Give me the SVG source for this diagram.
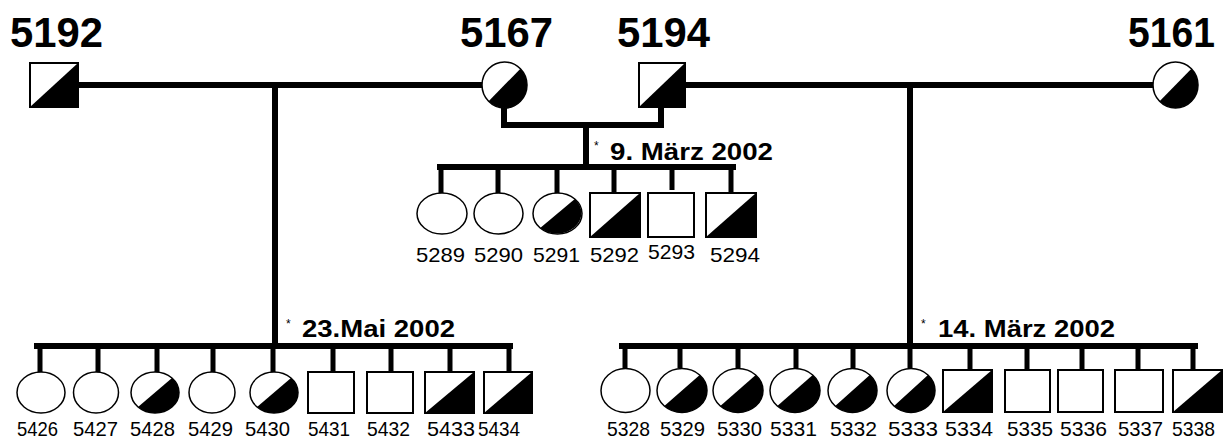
<svg xmlns="http://www.w3.org/2000/svg" width="1230" height="439" viewBox="0 0 1230 439">
<style>
.bg{fill:#fff}
.ln{stroke:#000;stroke-width:6;fill:none;stroke-linecap:square}
.dr{stroke:#000;stroke-width:5;fill:none}
.sq{fill:#fff;stroke:#000;stroke-width:2}
.ci{fill:#fff;stroke:#000;stroke-width:1.5}
.hf{fill:#000}
.big{font-family:"Liberation Sans",Arial,sans-serif;font-weight:bold;font-size:42px;fill:#000;text-anchor:middle}
.date{font-family:"Liberation Sans",Arial,sans-serif;font-weight:bold;font-size:24px;fill:#000}
.ast{font-family:"Liberation Sans",Arial,sans-serif;font-size:12px;fill:#000}
.lab{font-family:"Liberation Sans",Arial,sans-serif;font-size:21px;fill:#000;text-anchor:middle}
</style>
<rect class="bg" x="0" y="0" width="1230" height="439"/>
<g id="connectors">
<path class="ln" d="M78 85H482M685 85H1153"/>
<path class="ln" d="M275 85V346M37 346H510"/>
<path class="ln" d="M910 85V346M622 346H1195"/>
<path class="ln" d="M504 108V125H661V107M586 125V167M440 167H733"/>
<path class="dr" d="M441 167V193M498 167V193M557 167V193M614 167V193M672 167V190M731 167V193"/>
<path class="dr" d="M40 346V372M98 346V372M157 346V372M213 346V372M273 346V372M333 346V372M391 346V372M450 346V372M509 346V372"/>
<path class="dr" d="M625 346V368M680 346V368M738 346V368M796 346V368M853 346V368M910 346V368M970 346V370M1027 346V370M1082 346V370M1138 346V370M1193 346V370"/>
</g>
<g id="p5192"><rect class="sq" x="30" y="63" width="48" height="44"/><polygon class="hf" points="30,107 78,63 78,107"/><text class="big" x="56.5" y="47" textLength="93" lengthAdjust="spacingAndGlyphs">5192</text></g>
<g id="p5167"><ellipse class="ci" cx="504.5" cy="85" rx="22.5" ry="23"/><path class="hf" d="M488.6 101.3A22.5 23 0 0 0 520.4 68.7Z"/><text class="big" x="506.5" y="47" textLength="93" lengthAdjust="spacingAndGlyphs">5167</text></g>
<g id="p5194"><rect class="sq" x="639" y="63" width="46" height="44"/><polygon class="hf" points="639,107 685,63 685,107"/><text class="big" x="663.5" y="47" textLength="93" lengthAdjust="spacingAndGlyphs">5194</text></g>
<g id="p5161"><ellipse class="ci" cx="1175.5" cy="85" rx="22.5" ry="23"/><path class="hf" d="M1159.6 101.3A22.5 23 0 0 0 1191.4 68.7Z"/><text class="big" x="1171.5" y="47" textLength="87" lengthAdjust="spacingAndGlyphs">5161</text></g>
<g id="date1"><text class="ast" x="594" y="150">*</text><text class="date" x="610" y="160" textLength="163" lengthAdjust="spacingAndGlyphs">9. März 2002</text></g>
<g id="date2"><text class="ast" x="286" y="328">*</text><text class="date" x="302" y="337" textLength="153" lengthAdjust="spacingAndGlyphs">23.Mai 2002</text></g>
<g id="date3"><text class="ast" x="921" y="328">*</text><text class="date" x="938" y="337" textLength="177" lengthAdjust="spacingAndGlyphs">14. März 2002</text></g>
<g id="c5289"><ellipse class="ci" cx="442" cy="213.5" rx="25" ry="20.5"/><text class="lab" x="440.5" y="261.5" textLength="49" lengthAdjust="spacingAndGlyphs">5289</text></g>
<g id="c5290"><ellipse class="ci" cx="498.5" cy="213.5" rx="24.5" ry="20.5"/><text class="lab" x="498.5" y="261.5" textLength="49" lengthAdjust="spacingAndGlyphs">5290</text></g>
<g id="c5291"><ellipse class="ci" cx="557.5" cy="213.5" rx="24.5" ry="20.5"/><path class="hf" d="M540.2 228A24.5 20.5 0 0 0 574.8 199Z"/><text class="lab" x="556.5" y="261.5" textLength="47" lengthAdjust="spacingAndGlyphs">5291</text></g>
<g id="c5292"><rect class="sq" x="590" y="193" width="50" height="44"/><polygon class="hf" points="590,237 640,193 640,237"/><text class="lab" x="614.5" y="261.5" textLength="49" lengthAdjust="spacingAndGlyphs">5292</text></g>
<g id="c5293"><rect class="sq" x="648" y="193" width="46" height="44"/><text class="lab" x="671.5" y="258.5" textLength="47" lengthAdjust="spacingAndGlyphs">5293</text></g>
<g id="c5294"><rect class="sq" x="706" y="193" width="50" height="44"/><polygon class="hf" points="706,237 756,193 756,237"/><text class="lab" x="735" y="261.5" textLength="50" lengthAdjust="spacingAndGlyphs">5294</text></g>
<g id="c5426"><ellipse class="ci" cx="41" cy="392.5" rx="24" ry="20.5"/><text class="lab" x="37.5" y="436" textLength="41" lengthAdjust="spacingAndGlyphs">5426</text></g>
<g id="c5427"><ellipse class="ci" cx="96" cy="392.5" rx="22.5" ry="20.5"/><text class="lab" x="95.5" y="436" textLength="45" lengthAdjust="spacingAndGlyphs">5427</text></g>
<g id="c5428"><ellipse class="ci" cx="155" cy="392.5" rx="24" ry="20.5"/><path class="hf" d="M138 407A24 20.5 0 0 0 172 378Z"/><text class="lab" x="152.5" y="436" textLength="45" lengthAdjust="spacingAndGlyphs">5428</text></g>
<g id="c5429"><ellipse class="ci" cx="212" cy="392.5" rx="23" ry="20.5"/><text class="lab" x="210.5" y="436" textLength="45" lengthAdjust="spacingAndGlyphs">5429</text></g>
<g id="c5430"><ellipse class="ci" cx="274" cy="392.5" rx="24" ry="20.5"/><path class="hf" d="M257 407A24 20.5 0 0 0 291 378Z"/><text class="lab" x="267.5" y="436" textLength="45" lengthAdjust="spacingAndGlyphs">5430</text></g>
<g id="c5431"><rect class="sq" x="308" y="372" width="46" height="41"/><text class="lab" x="329" y="436" textLength="42" lengthAdjust="spacingAndGlyphs">5431</text></g>
<g id="c5432"><rect class="sq" x="367" y="372" width="46" height="41"/><text class="lab" x="388.5" y="436" textLength="43" lengthAdjust="spacingAndGlyphs">5432</text></g>
<g id="c5433"><rect class="sq" x="425" y="372" width="49" height="41"/><polygon class="hf" points="425,413 474,372 474,413"/><text class="lab" x="451" y="436" textLength="48" lengthAdjust="spacingAndGlyphs">5433</text></g>
<g id="c5434"><rect class="sq" x="484" y="372" width="48" height="41"/><polygon class="hf" points="484,413 532,372 532,413"/><text class="lab" x="499" y="436" textLength="42" lengthAdjust="spacingAndGlyphs">5434</text></g>
<g id="c5328"><ellipse class="ci" cx="625.5" cy="390.5" rx="24.5" ry="22"/><text class="lab" x="628.5" y="435.5" textLength="43" lengthAdjust="spacingAndGlyphs">5328</text></g>
<g id="c5329"><ellipse class="ci" cx="682" cy="390.5" rx="25" ry="22"/><path class="hf" d="M664.3 406.1A25 22 0 0 0 699.7 374.9Z"/><text class="lab" x="682.5" y="435.5" textLength="45" lengthAdjust="spacingAndGlyphs">5329</text></g>
<g id="c5330"><ellipse class="ci" cx="738" cy="390.5" rx="25" ry="22"/><path class="hf" d="M720.3 406.1A25 22 0 0 0 755.7 374.9Z"/><text class="lab" x="739.5" y="435.5" textLength="45" lengthAdjust="spacingAndGlyphs">5330</text></g>
<g id="c5331"><ellipse class="ci" cx="795" cy="390.5" rx="25" ry="22"/><path class="hf" d="M777.3 406.1A25 22 0 0 0 812.7 374.9Z"/><text class="lab" x="793.5" y="435.5" textLength="47" lengthAdjust="spacingAndGlyphs">5331</text></g>
<g id="c5332"><ellipse class="ci" cx="852.5" cy="390.5" rx="24.5" ry="22"/><path class="hf" d="M835.2 406.1A24.5 22 0 0 0 869.8 374.9Z"/><text class="lab" x="853.5" y="436" textLength="47" lengthAdjust="spacingAndGlyphs">5332</text></g>
<g id="c5333"><ellipse class="ci" cx="911" cy="390.5" rx="24" ry="22"/><path class="hf" d="M894 406.1A24 22 0 0 0 928 374.9Z"/><text class="lab" x="913" y="436" textLength="50" lengthAdjust="spacingAndGlyphs">5333</text></g>
<g id="c5334"><rect class="sq" x="943" y="370" width="49" height="42"/><polygon class="hf" points="943,412 992,370 992,412"/><text class="lab" x="969" y="436" textLength="48" lengthAdjust="spacingAndGlyphs">5334</text></g>
<g id="c5335"><rect class="sq" x="1005" y="370" width="45" height="42"/><text class="lab" x="1030" y="435.5" textLength="46" lengthAdjust="spacingAndGlyphs">5335</text></g>
<g id="c5336"><rect class="sq" x="1058" y="370" width="45" height="42"/><text class="lab" x="1083.5" y="435.5" textLength="47" lengthAdjust="spacingAndGlyphs">5336</text></g>
<g id="c5337"><rect class="sq" x="1115" y="370" width="48" height="42"/><text class="lab" x="1140.5" y="435.5" textLength="45" lengthAdjust="spacingAndGlyphs">5337</text></g>
<g id="c5338"><rect class="sq" x="1173" y="370" width="49" height="42"/><polygon class="hf" points="1173,412 1222,370 1222,412"/><text class="lab" x="1193.5" y="435.5" textLength="43" lengthAdjust="spacingAndGlyphs">5338</text></g>
</svg>
